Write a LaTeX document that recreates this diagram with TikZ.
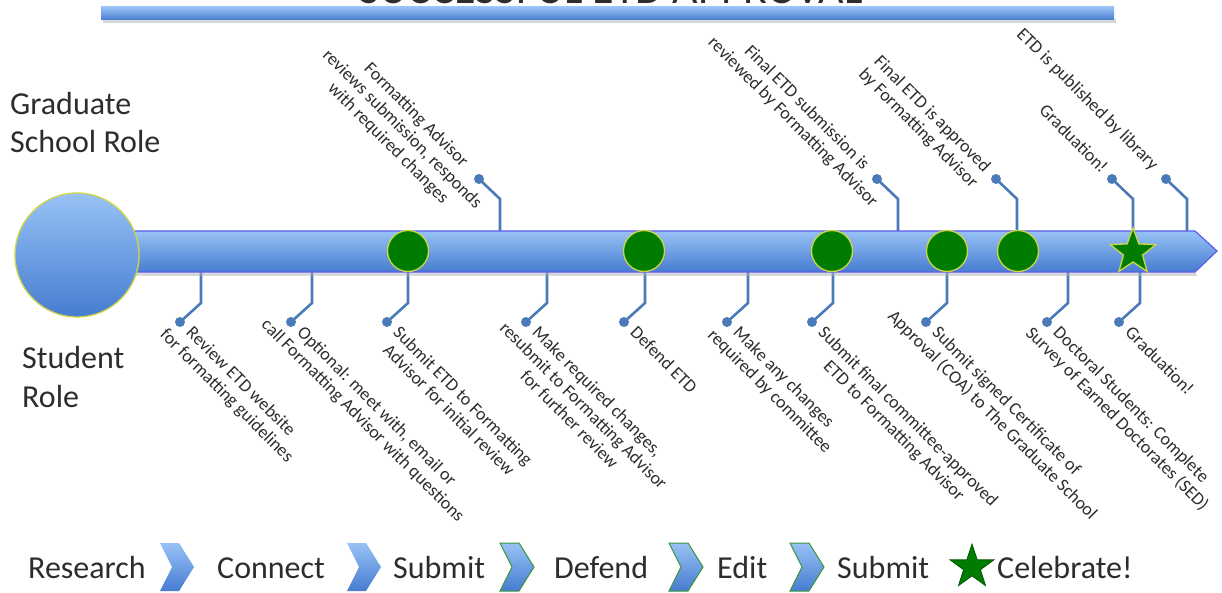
\documentclass[tikz,border=0pt]{standalone}
\usepackage{fontspec}
\setmainfont{Carlito}
\usetikzlibrary{shapes.geometric,calc}
\definecolor{barlt}{RGB}{152,194,246}
\definecolor{bardk}{RGB}{70,124,208}
\definecolor{barline}{RGB}{92,92,238}
\definecolor{stemblue}{RGB}{74,122,184}
\definecolor{dkgreen}{RGB}{0,125,0}
\definecolor{ygreen}{RGB}{205,215,70}
\definecolor{txt}{RGB}{45,45,45}
\definecolor{chevgreen}{RGB}{60,150,60}
\begin{document}
\begin{tikzpicture}[x=1pt,y=-1pt,
  lbl/.style={rotate=-45, font=\fontsize{18}{20}\selectfont, text=txt, inner xsep=0pt, inner ysep=1.2pt, text height=13pt, text depth=4pt},
  role/.style={font=\fontsize{32}{38}\selectfont, text=txt, inner sep=0pt},
  stem/.style={draw=stemblue, line width=2.6pt},
  dotc/.style={circle, fill=stemblue, inner sep=0pt, minimum size=10pt},
  gdot/.style={circle, fill=dkgreen, draw=ygreen, line width=1.3pt, minimum size=41pt, inner sep=0pt},
  bigc/.style={circle, top color=barlt, bottom color=bardk, draw=ygreen, line width=1.3pt, minimum size=124pt, inner sep=0pt},
  bstar/.style={star, star points=5, star point ratio=2.4, fill=dkgreen, draw=ygreen, line width=1.3pt, minimum size=48pt, inner sep=0pt},
  lstar/.style={star, star points=5, star point ratio=2.6, fill=dkgreen, draw=dkgreen!70!black, line width=0.8pt, minimum size=46pt, inner sep=0pt},
  chevsty/.style={top color=barlt, bottom color=bardk, line width=1pt}
]
\useasboundingbox (0,0) rectangle (1222,593);
% title (cut off at the top)
\begin{scope}
\clip (0,0) rectangle (1222,593);
\node[font=\fontsize{44}{48}\selectfont, text=txt, anchor=base, inner sep=0pt] (title) at (611,4) {SUCCESSFUL ETD APPROVAL};
\end{scope}
% top bar
\fill[black!30, opacity=.5] (103,19) rectangle (1116,23);
\path[top color=barlt, bottom color=bardk] (101,7) rectangle (1114,20);

% top stems
\foreach \x [count=\i] in {500,898,1017,1133,1187} {
  \coordinate (ta\i) at (\x,233);
  \coordinate (tb\i) at (\x,199);
  \node[dotc] (td\i) at (\x-21,179) {};
  \draw[stem] (ta\i) -- (tb\i) -- (td\i.center);
}
% bottom stems
\foreach \x [count=\i] in {201,312,408,547,645,748,833,947,1068,1140} {
  \coordinate (ba\i) at (\x,270);
  \coordinate (bb\i) at (\x,303);
  \node[dotc] (bd\i) at (\x-21,322) {};
  \draw[stem] (ba\i) -- (bb\i) -- (bd\i.center);
}

% main bar
\fill[black!30, opacity=.5] (132,272) -- (1195,272) -- (1197,276) -- (132,276) -- cycle;
\path[top color=barlt, bottom color=bardk, draw=barline, line width=1.2pt]
  (130,231) -- (1195,231) -- (1217,251) -- (1195,272) -- (130,272) -- cycle;
\node[bigc] (start) at (77,255) {};
\foreach \x [count=\i] in {408,644,832,947,1018} {
  \node[gdot] (m\i) at (\x,251) {};
}
\node[bstar] (star) at (1133,252) {};

% role labels
\node[role, anchor=base west] (gs1) at (10,115) {Graduate};
\node[role, anchor=base west] (gs2) at (10,153) {School Role};
\node[role, anchor=base west] (sr1) at (22,368) {Student};
\node[role, anchor=base west] (sr2) at (22,407) {Role};

% top labels
\node[lbl, anchor=east] (t1a) at ($(td1)+(-14,-14)$) {Formatting Advisor};
\node[lbl, anchor=north] (t1b) at (t1a.south) {reviews submission, responds};
\node[lbl, anchor=north] (t1c) at (t1b.south) {with required changes};
\node[lbl, anchor=east] (t2a) at ($(td2)+(-11,-11)$) {Final ETD submission is};
\node[lbl, anchor=north] (t2b) at (t2a.south) {reviewed by Formatting Advisor};
\node[lbl, anchor=east] (t3a) at ($(td3)+(-9,-9)$) {Final ETD is approved};
\node[lbl, anchor=north] (t3b) at (t3a.south) {by Formatting Advisor};
\node[lbl, anchor=east] (t4a) at ($(td4)+(-8,-8)$) {Graduation!};
\node[lbl, anchor=east] (t5a) at ($(td5)+(-11,-11)$) {ETD is published by library};

% bottom labels
\node[lbl, anchor=west] (b1a) at ($(bd1)+(8.5,8.5)$) {Review ETD website};
\node[lbl, anchor=north] (b1b) at (b1a.south) {for formatting guidelines};
\node[lbl, anchor=west] (b2a) at ($(bd2)+(8.5,8.5)$) {Optional: meet with, email or};
\node[lbl, anchor=north] (b2b) at (b2a.south) {call Formatting Advisor with questions};
\node[lbl, anchor=west] (b3a) at ($(bd3)+(8.5,8.5)$) {Submit ETD to Formatting};
\node[lbl, anchor=north] (b3b) at (b3a.south) {Advisor for initial review};
\node[lbl, anchor=west] (b4a) at ($(bd4)+(8.5,8.5)$) {Make required changes,};
\node[lbl, anchor=north] (b4b) at (b4a.south) {resubmit to Formatting Advisor};
\node[lbl, anchor=north] (b4c) at (b4b.south) {for further review};
\node[lbl, anchor=west] (b5a) at ($(bd5)+(8.5,8.5)$) {Defend ETD};
\node[lbl, anchor=west] (b6a) at ($(bd6)+(8.5,8.5)$) {Make any changes};
\node[lbl, anchor=north] (b6b) at (b6a.south) {required by committee};
\node[lbl, anchor=west] (b7a) at ($(bd7)+(8.5,8.5)$) {Submit final committee-approved};
\node[lbl, anchor=north] (b7b) at (b7a.south) {ETD to Formatting Advisor};
\node[lbl, anchor=west] (b8a) at ($(bd8)+(8.5,8.5)$) {Submit signed Certificate of};
\node[lbl, anchor=north] (b8b) at (b8a.south) {Approval (COA) to The Graduate School};
\node[lbl, anchor=west] (b9a) at ($(bd9)+(8.5,8.5)$) {Doctoral Students: Complete};
\node[lbl, anchor=north] (b9b) at (b9a.south) {Survey of Earned Doctorates (SED)};
\node[lbl, anchor=west] (b10a) at ($(bd10)+(8.5,8.5)$) {Graduation!};

% legend
\node[role, anchor=base west] (lg1) at (28,578) {Research};
\node[role, anchor=base west] (lg2) at (217,578) {Connect};
\node[role, anchor=base west] (lg3) at (393,578) {Submit};
\node[role, anchor=base west] (lg4) at (554,578) {Defend};
\node[role, anchor=base west] (lg5) at (717,578) {Edit};
\node[role, anchor=base west] (lg6) at (837,578) {Submit};
\node[role, anchor=base west] (lg7) at (997,578) {Celebrate!};
\foreach \cx/\cc in {177/none,364/none,517/chevgreen,686/chevgreen,807/chevgreen} {
  \path[chevsty, draw=\cc, shift={(\cx,567)}]
    (-17,-24) -- (2,-24) -- (17,0) -- (2,24) -- (-17,24) -- (-5,0) -- cycle;
}
\node[lstar] (legstar) at (972,567) {};
\end{tikzpicture}
\end{document}
